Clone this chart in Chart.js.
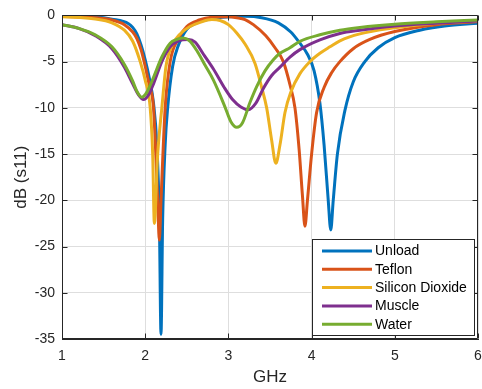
<!DOCTYPE html>
<html>
<head>
<meta charset="utf-8">
<script src="https://cdn.jsdelivr.net/npm/chart.js@4.4.1/dist/chart.umd.min.js"></script>
<style>
html, body { margin: 0; padding: 0; background: #fff; }
#wrap { width: 482px; height: 389px; }
</style>
</head>
<body>
<div id="wrap"><canvas id="s11Chart" width="482" height="389"></canvas></div>
<script>
// values (GHz / dB)
const unloadFreq = [1.0, 1.4, 1.6, 1.8, 1.85, 1.9, 1.95, 2.0, 2.05, 2.1, 2.14, 2.17, 2.19, 2.21, 2.24, 2.27, 2.33, 2.4, 2.5, 2.6, 2.8, 3.0, 3.2, 3.4, 3.6, 3.75, 3.85, 3.95, 4.03, 4.1, 4.15, 4.2, 4.23, 4.26, 4.31, 4.4, 4.5, 4.64, 4.8, 5.0, 5.3, 5.6, 6.0];
const unloadDb   = [-0.05, -0.15, -0.4, -0.9, -1.3, -2.0, -3.2, -4.8, -6.8, -9.5, -14, -22, -34.5, -22, -14, -10, -5.5, -3.2, -1.5, -0.9, -0.35, -0.15, -0.1, -0.25, -0.8, -1.8, -2.9, -4.2, -6.0, -9.5, -14, -20, -23.2, -20, -15, -10.3, -7.2, -5.0, -3.5, -2.4, -1.6, -1.15, -0.85];

const teflonFreq = [1.0, 1.4, 1.6, 1.75, 1.85, 1.9, 1.95, 2.0, 2.05, 2.1, 2.15, 2.17, 2.19, 2.24, 2.3, 2.4, 2.5, 2.65, 2.8, 3.0, 3.1, 3.2, 3.3, 3.45, 3.56, 3.66, 3.74, 3.8, 3.85, 3.89, 3.92, 3.95, 4.0, 4.06, 4.15, 4.24, 4.34, 4.5, 4.7, 5.0, 5.5, 6.0];
const teflonDb   = [-0.1, -0.25, -0.5, -1.0, -1.8, -2.5, -3.7, -5.5, -7.6, -10, -20, -24.3, -20, -10, -5.0, -2.5, -1.2, -0.5, -0.2, -0.15, -0.25, -0.45, -1.0, -2.2, -3.5, -5.0, -7.5, -10, -14.5, -19.5, -22.8, -20, -15, -10.5, -7.8, -6.2, -5.0, -3.6, -2.6, -1.75, -1.0, -0.67];

const silicaFreq = [1.0, 1.4, 1.6, 1.75, 1.85, 1.94, 2.0, 2.06, 2.09, 2.11, 2.15, 2.2, 2.25, 2.32, 2.42, 2.54, 2.66, 2.8, 2.9, 3.0, 3.1, 3.2, 3.32, 3.4, 3.46, 3.52, 3.57, 3.62, 3.68, 3.75, 3.86, 3.98, 4.1, 4.22, 4.34, 4.58, 5.0, 5.5, 6.0];
const silicaDb   = [-0.15, -0.4, -0.8, -1.6, -2.8, -5.0, -7.0, -10, -15, -22.5, -15, -10, -5.5, -3.3, -2.0, -1.2, -0.75, -0.45, -0.55, -1.0, -1.9, -3.1, -5.2, -7.8, -10, -13.5, -16, -14, -10.5, -8.3, -6.3, -5.0, -4.1, -3.4, -2.75, -2.0, -1.35, -0.85, -0.6];

const muscleFreq = [1.0, 1.2, 1.4, 1.6, 1.75, 1.85, 1.92, 1.98, 2.04, 2.1, 2.2, 2.3, 2.4, 2.52, 2.6, 2.7, 2.82, 2.95, 3.05, 3.15, 3.24, 3.33, 3.42, 3.52, 3.62, 3.74, 3.86, 4.1, 4.34, 4.58, 5.0, 5.5, 6.0];
const muscleDb   = [-1.0, -1.4, -2.2, -3.6, -5.6, -7.4, -8.6, -9.1, -8.6, -7.4, -5.0, -3.4, -2.75, -2.6, -2.9, -4.2, -5.8, -7.8, -9.1, -9.9, -10.2, -9.5, -7.9, -6.5, -5.6, -4.5, -3.7, -2.65, -1.95, -1.6, -1.15, -0.85, -0.6];

const waterFreq = [1.0, 1.2, 1.4, 1.6, 1.75, 1.85, 1.9, 1.96, 2.02, 2.1, 2.2, 2.3, 2.38, 2.46, 2.54, 2.62, 2.72, 2.82, 2.95, 3.03, 3.1, 3.17, 3.26, 3.34, 3.44, 3.54, 3.62, 3.74, 3.86, 4.1, 4.34, 4.58, 5.0, 5.5, 6.0];
const waterDb   = [-1.0, -1.4, -2.1, -3.4, -5.3, -7.1, -8.2, -8.85, -8.3, -6.7, -4.5, -3.0, -2.6, -2.45, -2.8, -3.8, -5.4, -7.0, -9.7, -11.5, -12.1, -11.6, -9.4, -7.7, -6.0, -4.8, -4.1, -3.5, -2.8, -2.1, -1.6, -1.3, -0.95, -0.7, -0.5];

const seriesNames = ['Unload', 'Teflon', 'Silicon Dioxide', 'Muscle', 'Water'];
const seriesColors = ['#0072BD', '#D95319', '#EDB120', '#7E2F8E', '#77AC30'];
const xTicks = [1, 2, 3, 4, 5, 6];
const yTicks = [0, -5, -10, -15, -20, -25, -30, -35];

const allFreq = [unloadFreq, teflonFreq, silicaFreq, muscleFreq, waterFreq];
const allDb = [unloadDb, teflonDb, silicaDb, muscleDb, waterDb];

const FONT = '"Liberation Sans", Arial, Helvetica, sans-serif';
const INK = '#262626';

function toPoints(fs, ds) {
    return fs.map((f, i) => ({ x: f, y: ds[i] }));
}

// box on top/right + inward tick marks like the original
const framePlugin = {
    id: 'frame',
    afterDatasetsDraw(chart) {
        const ctx = chart.ctx;
        const a = chart.chartArea;
        const sx = chart.scales.x, sy = chart.scales.y;
        ctx.save();
        ctx.strokeStyle = INK;
        ctx.lineWidth = 1;
        ctx.beginPath();
        const L = Math.round(a.left) + 0.5, R = Math.round(a.right) - 0.5;
        const T = Math.round(a.top) + 0.5, B = Math.round(a.bottom) - 0.5;
        ctx.moveTo(L, T); ctx.lineTo(R, T); ctx.lineTo(R, B); ctx.lineTo(L, B); ctx.lineTo(L, T);
        xTicks.forEach(v => {
            const px = Math.round(sx.getPixelForValue(v)) + 0.5;
            ctx.moveTo(px, B); ctx.lineTo(px, B - 5);
            ctx.moveTo(px, T); ctx.lineTo(px, T + 5);
        });
        yTicks.forEach(v => {
            const py = Math.round(sy.getPixelForValue(v)) + 0.5;
            ctx.moveTo(L, py); ctx.lineTo(L + 5, py);
            ctx.moveTo(R, py); ctx.lineTo(R - 5, py);
        });
        ctx.stroke();
        ctx.restore();
    },
    afterDraw(chart) {
        // legend box in the lower right corner
        const ctx = chart.ctx;
        const a = chart.chartArea;
        const w = 162, h = 96;
        const x0 = Math.round(a.right) - 4 - w, y0 = Math.round(a.bottom) - 4 - h;
        ctx.save();
        ctx.fillStyle = '#fff';
        ctx.fillRect(x0, y0, w, h);
        ctx.strokeStyle = INK;
        ctx.lineWidth = 1;
        ctx.strokeRect(x0 + 0.5, y0 + 0.5, w, h);
        ctx.font = '14px ' + FONT;
        ctx.textBaseline = 'middle';
        chart.data.datasets.forEach((ds, i) => {
            const cy = y0 + 12 + i * 18.3;
            ctx.strokeStyle = ds.borderColor;
            ctx.lineWidth = 3;
            ctx.beginPath();
            ctx.moveTo(x0 + 10, cy);
            ctx.lineTo(x0 + 60, cy);
            ctx.stroke();
            ctx.fillStyle = '#000';
            ctx.fillText(ds.label, x0 + 63, cy + 0.5);
        });
        ctx.restore();
    }
};

new Chart(document.getElementById('s11Chart'), {
    type: 'line',
    data: {
        datasets: seriesNames.map((name, i) => ({
            label: name,
            data: toPoints(allFreq[i], allDb[i]),
            borderColor: seriesColors[i],
            backgroundColor: seriesColors[i],
            borderWidth: 3,
            pointRadius: 0,
            fill: false,
            cubicInterpolationMode: 'monotone',
            order: seriesNames.length - i
        }))
    },
    options: {
        responsive: false,
        animation: false,
        devicePixelRatio: 1,
        layout: { padding: { top: 15, right: 4, left: 0, bottom: 0 } },
        plugins: {
            legend: { display: false },
            tooltip: { enabled: false }
        },
        scales: {
            x: {
                type: 'linear',
                min: 1,
                max: 6,
                afterBuildTicks: s => { s.ticks = xTicks.map(v => ({ value: v })); },
                afterFit: s => { s.height = 50; s.paddingLeft = 0; s.paddingRight = 0; },
                ticks: { color: INK, font: { family: FONT, size: 14 }, padding: 9, maxRotation: 0 },
                grid: { color: '#dedede', drawTicks: false },
                border: { color: INK },
                title: { display: true, text: 'GHz', color: INK, font: { family: FONT, size: 17 }, padding: { top: 0, bottom: 1 } }
            },
            y: {
                type: 'linear',
                min: -35,
                max: 0,
                afterBuildTicks: s => { s.ticks = yTicks.map(v => ({ value: v })); },
                afterFit: s => { s.width = 62; },
                ticks: { color: INK, font: { family: FONT, size: 14 }, padding: 7 },
                grid: { color: '#dedede', drawTicks: false },
                border: { color: INK },
                title: { display: true, text: 'dB (s11)', color: INK, font: { family: FONT, size: 17 }, padding: { top: 11, bottom: 0 } }
            }
        }
    },
    plugins: [framePlugin]
});
</script>
</body>
</html>
